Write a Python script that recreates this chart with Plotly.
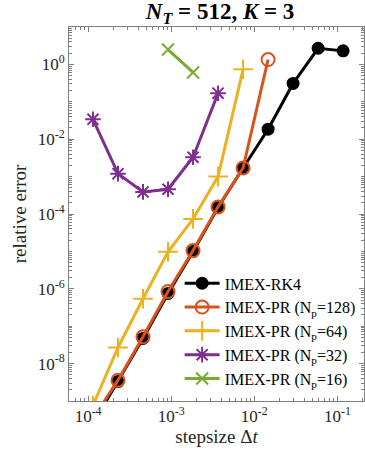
import plotly.graph_objects as go
import numpy as np

# step sizes (dt), halving sequence
dt = [0.1172, 0.0586, 0.0293, 0.01465, 0.007324, 0.003662, 0.001831,
      9.155e-4, 4.578e-4, 2.289e-4, 1.144e-4, 5.72e-5]

# relative error per method
rk4_dt = dt[0:11]
rk4_err = [2.3, 2.7, 0.31, 0.0185, 1.7e-3, 1.5e-4, 1.0e-5, 7.5e-7, 4.7e-8, 3.3e-9, 2.5e-10]

pr128_dt = dt[3:11]
pr128_err = [1.35, 1.7e-3, 1.55e-4, 1.05e-5, 8.5e-7, 5.2e-8, 3.6e-9, 3.4e-10]

pr64_dt = dt[4:11]
pr64_err = [0.74, 1.0e-3, 7.4e-5, 9.8e-6, 5.4e-7, 2.7e-8, 7.6e-10]

pr32_dt = dt[5:11]
pr32_err = [0.17, 3.3e-3, 4.6e-4, 3.9e-4, 1.2e-3, 0.034]

pr16_dt = dt[6:8]
pr16_err = [0.61, 2.5]

names = ["IMEX-RK4", "IMEX-PR (N<sub>p</sub>=128)", "IMEX-PR (N<sub>p</sub>=64)",
         "IMEX-PR (N<sub>p</sub>=32)", "IMEX-PR (N<sub>p</sub>=16)"]
colors = ["#000000", "#D95319", "#EDB120", "#7E2F8E", "#77AC30"]
symbols = ["circle", "circle-open", "cross-thin-open", "asterisk-open", "x-thin-open"]
msizes = [11, 13, 14, 13, 12]

xtick_vals = [1e-4, 1e-3, 1e-2, 1e-1]
xtick_text = ["10<sup>-4</sup>", "10<sup>-3</sup>", "10<sup>-2</sup>", "10<sup>-1</sup>"]
ytick_vals = [1e-8, 1e-6, 1e-4, 1e-2, 1e0]
ytick_text = ["10<sup>-8</sup>", "10<sup>-6</sup>", "10<sup>-4</sup>", "10<sup>-2</sup>", "10<sup>0</sup>"]

series = [(rk4_dt, rk4_err), (pr128_dt, pr128_err), (pr64_dt, pr64_err),
          (pr32_dt, pr32_err), (pr16_dt, pr16_err)]

FONT = "Liberation Serif"

fig = go.Figure()
for (x, y), n, c, s, ms in zip(series, names, colors, symbols, msizes):
    fig.add_trace(go.Scatter(
        x=x, y=y, name=n, mode="lines+markers",
        line=dict(color=c, width=3),
        marker=dict(color=c, symbol=s, size=ms, line=dict(color=c, width=2)),
    ))

xminor = [m * 10.0 ** e for e in range(-5, 0) for m in range(2, 10)]
yminor = [m * 10.0 ** e for e in range(-10, 2) for m in range(1, 10) if not (m == 1 and e % 2 == 0)]

axis_common = dict(
    type="log", showgrid=False, zeroline=False,
    showline=True, linecolor="#808080", linewidth=1, mirror="ticks",
    ticks="inside", ticklen=5, tickcolor="#808080", tickwidth=1,
    tickfont=dict(family=FONT, size=17, color="#262626"),
)

fig.update_xaxes(
    **axis_common,
    range=[-4.23, -0.68],
    tickvals=xtick_vals, ticktext=xtick_text,
    minor=dict(tickvals=xminor, ticks="inside", ticklen=3, tickcolor="#808080"),
    title=dict(text="stepsize Δ<i>t</i>", font=dict(family=FONT, size=19, color="#262626"), standoff=4),
)
fig.update_yaxes(
    **axis_common,
    range=[-9.0, 1.0],
    tickvals=ytick_vals, ticktext=ytick_text,
    minor=dict(tickvals=yminor, ticks="inside", ticklen=3, tickcolor="#808080"),
    title=dict(text="relative error", font=dict(family=FONT, size=19, color="#262626"), standoff=6),
)

fig.update_layout(
    width=365, height=455,
    margin=dict(l=69, r=1, t=27, b=54),
    plot_bgcolor="white", paper_bgcolor="white",
    title=dict(text="<b><i>N</i><sub><i>T</i></sub> = 512, <i>K</i> = 3</b>",
               font=dict(family=FONT, size=23, color="black"),
               x=0.603, xanchor="center", y=0.975, yanchor="middle"),
    legend=dict(x=0.375, y=0.36, xanchor="left", yanchor="top",
                bgcolor="rgba(0,0,0,0)", borderwidth=0, itemwidth=35,
                tracegroupgap=0,
                font=dict(family=FONT, size=16, color="black")),
    showlegend=True,
)

fig.write_html("out.html")
